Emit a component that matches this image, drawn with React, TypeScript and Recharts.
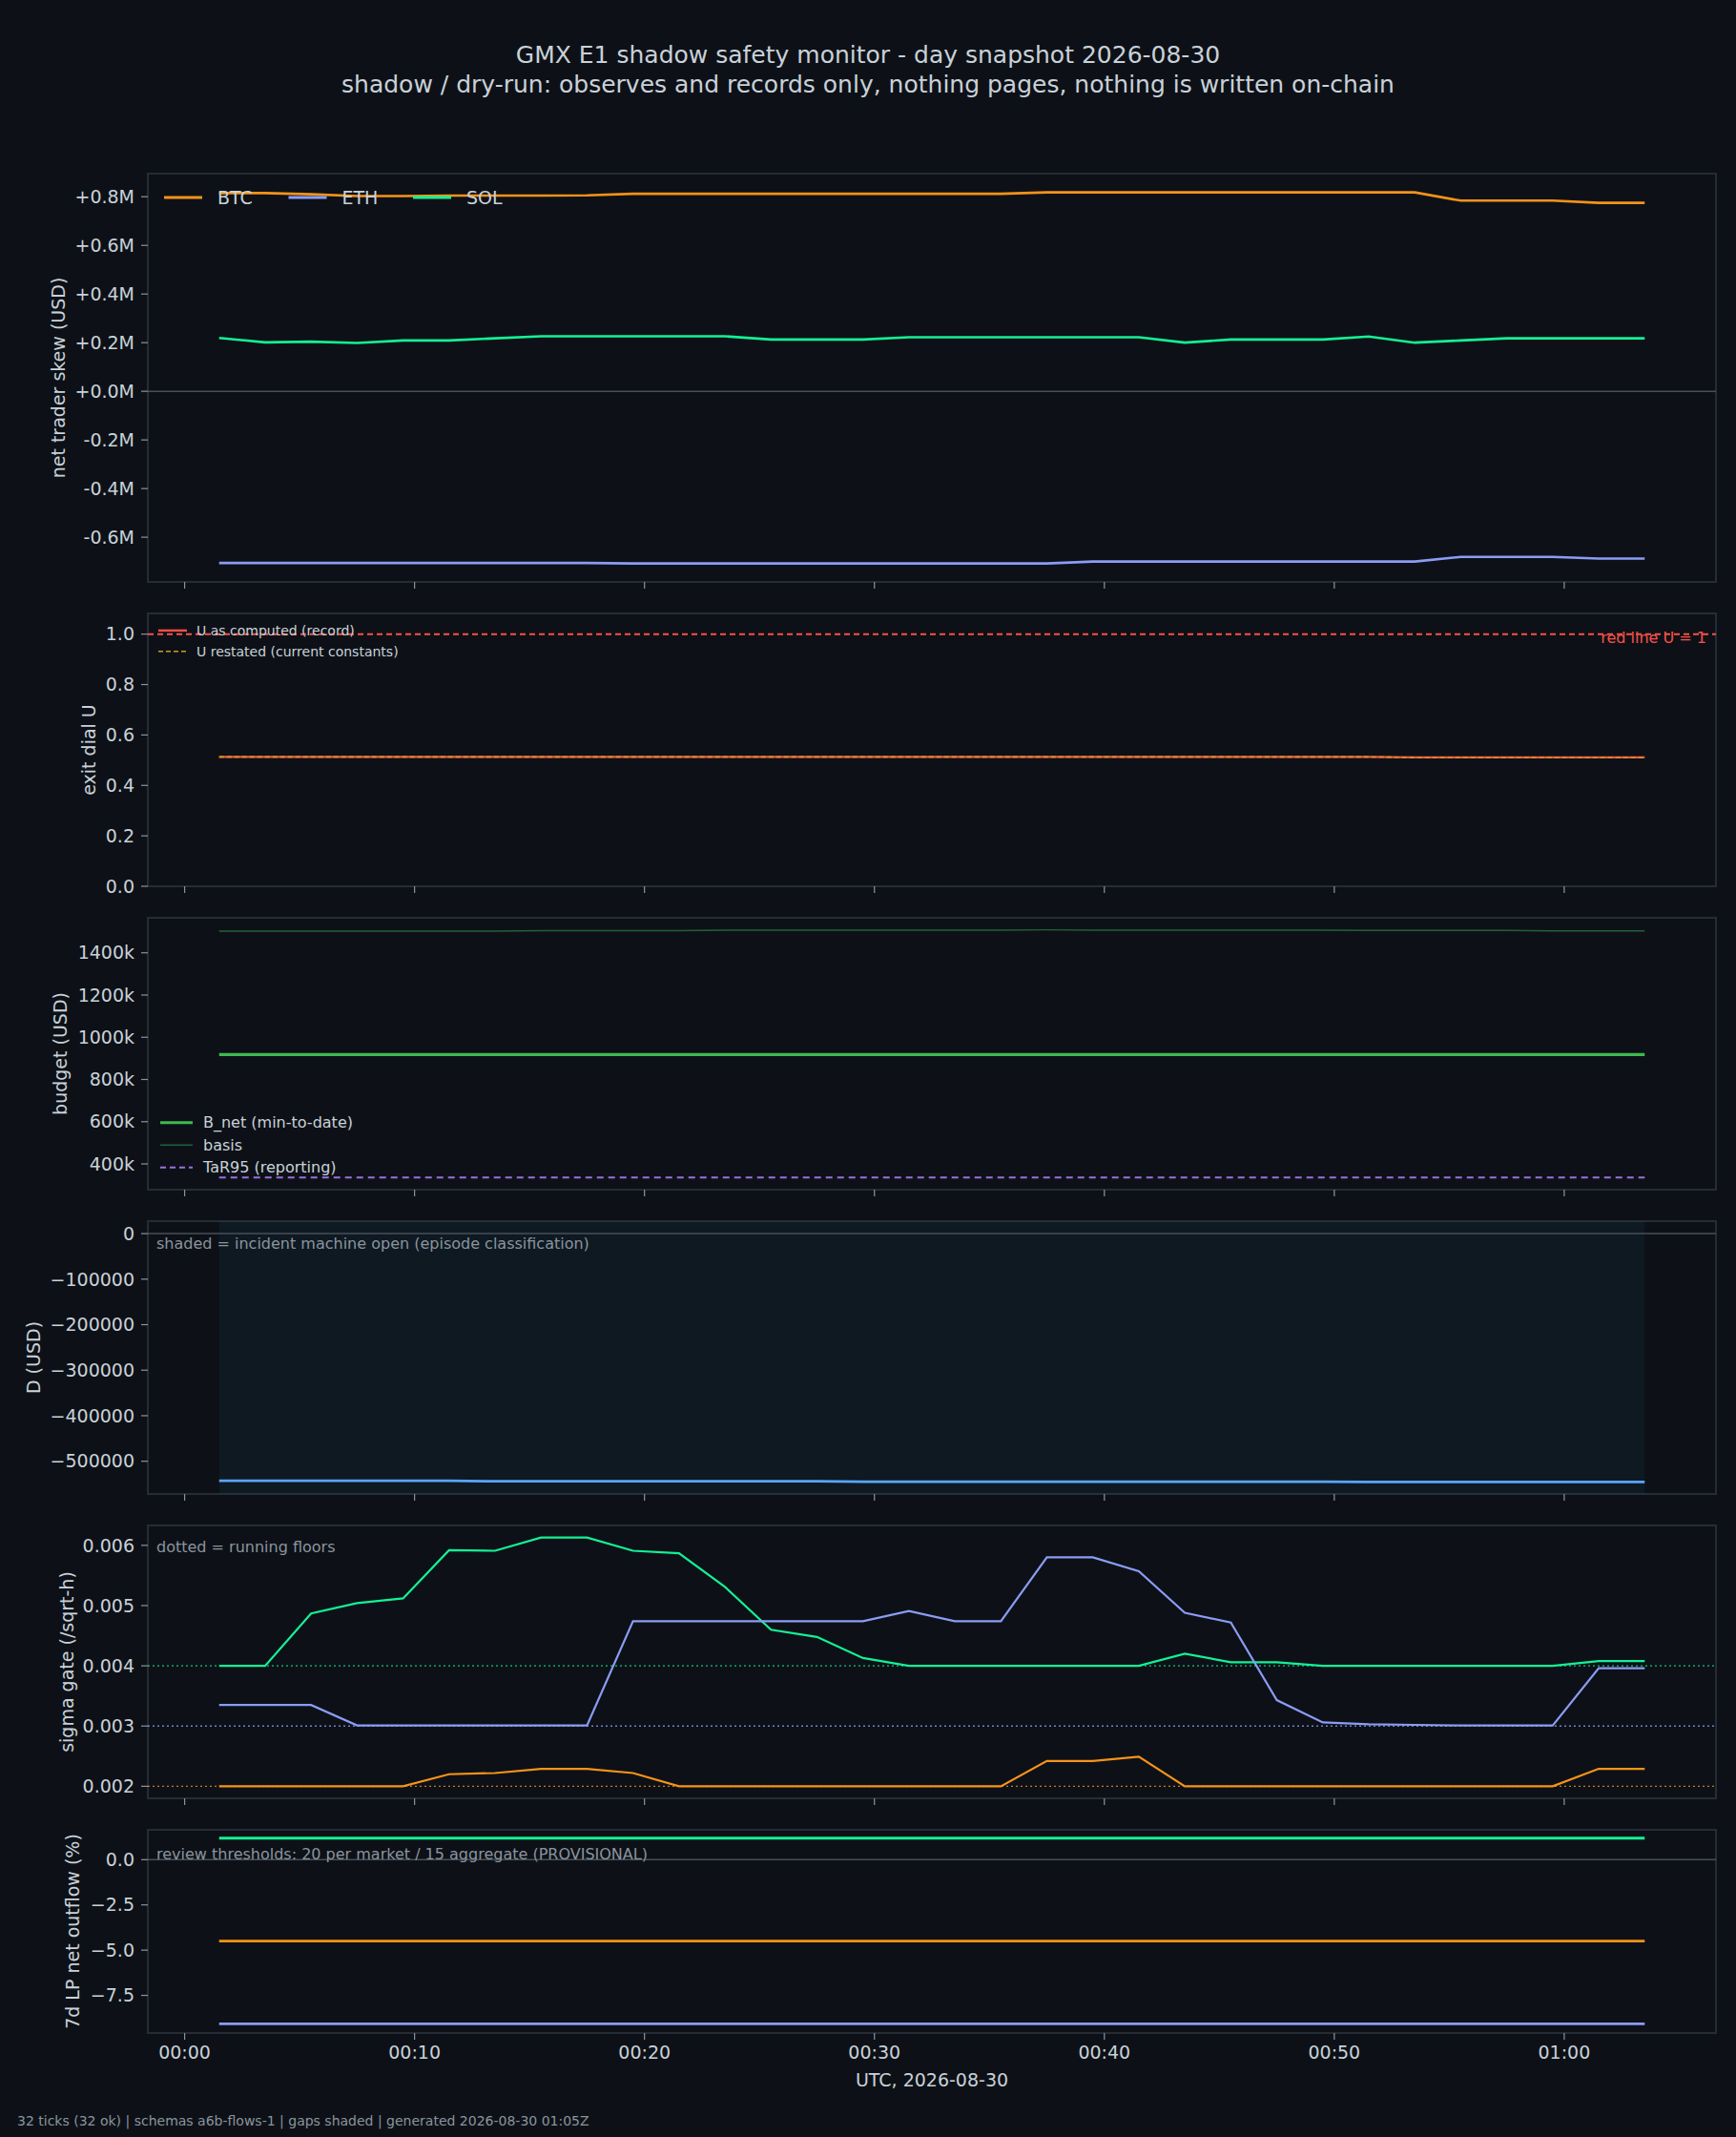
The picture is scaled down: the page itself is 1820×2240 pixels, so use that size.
import React from 'react';
import {
  LineChart,
  Line,
  XAxis,
  YAxis,
  ReferenceLine,
  ReferenceArea,
  Legend,
} from 'recharts';

// page + palette
const W = 1820;
const H = 2240;
const PLOT_L = 155;
const PLOT_R = 1799;
const FONT = '"DejaVu Sans", sans-serif';
const BG = '#0d1117';
const FRAME = '#262c35';
const TEXT = '#c9d1d9';
const MUTED = '#8b949e';
const ZERO = '#484f58';

const C_BTC = '#f7931a';
const C_ETH = '#8b9cf4';
const C_SOL = '#14f195';
const C_D = '#58a6ff';
const C_BNET = '#3fb950';
const C_BASIS = '#22613a';
const C_TAR = '#9d6fe0';
const C_URED = '#f85149';
const C_UREST = '#d29922';
const C_SHADE = '#2a7aa8';

// minutes after 00:00 UTC, one per tick (32 ticks)
const MINUTES = [
  1.5, 3.5, 5.5, 7.5, 9.5, 11.5, 13.5, 15.5, 17.5, 19.5, 21.5, 23.5, 25.5, 27.5, 29.5, 31.5,
  33.5, 35.5, 37.5, 39.5, 41.5, 43.5, 45.5, 47.5, 49.5, 51.5, 53.5, 55.5, 57.5, 59.5, 61.5, 63.5,
];
const X_MIN = -1.6;
const X_MAX = 66.6;
const X_TICKS = [0, 10, 20, 30, 40, 50, 60];

// panel 1: net trader skew (USD)
const SKEW_BTC = [
  815000, 815000, 810000, 803000, 803000, 805000, 805000, 805000, 806000, 812000, 812000, 812000,
  812000, 812000, 812000, 812000, 812000, 812000, 818000, 818000, 818000, 818000, 818000, 818000,
  818000, 818000, 818000, 784000, 784000, 784000, 775000, 775000,
];
const SKEW_ETH = [
  -706000, -706000, -706000, -706000, -706000, -706000, -706000, -706000, -706000, -708000, -708000,
  -708000, -708000, -708000, -708000, -708000, -708000, -708000, -708000, -700000, -700000, -700000,
  -700000, -700000, -700000, -700000, -700000, -681000, -681000, -681000, -688000, -688000,
];
const SKEW_SOL = [
  219600, 201300, 204000, 198700, 209000, 209000, 218000, 226000, 226000, 226000, 226000, 226000,
  213000, 213000, 213000, 222000, 222000, 222000, 222000, 222000, 222000, 200000, 213000, 213000,
  213000, 225000, 200000, 209000, 218000, 218000, 218000, 218000,
];
const SKEW_TICKS = [-600000, -400000, -200000, 0, 200000, 400000, 600000, 800000];

// panel 2: exit dial U
const U_COMPUTED = [
  0.513, 0.513, 0.513, 0.513, 0.513, 0.513, 0.513, 0.513, 0.513, 0.513, 0.513, 0.513, 0.513, 0.513,
  0.513, 0.513, 0.513, 0.513, 0.513, 0.513, 0.513, 0.513, 0.513, 0.513, 0.513, 0.513, 0.511, 0.511,
  0.511, 0.511, 0.511, 0.511,
];
const U_RESTATED = [
  0.513, 0.513, 0.513, 0.513, 0.513, 0.513, 0.513, 0.513, 0.513, 0.513, 0.513, 0.513, 0.513, 0.513,
  0.513, 0.513, 0.513, 0.513, 0.513, 0.513, 0.513, 0.513, 0.513, 0.513, 0.513, 0.513, 0.511, 0.511,
  0.511, 0.511, 0.511, 0.511,
];
const U_RED_LINE = 1;
const U_TICKS = [0, 0.2, 0.4, 0.6, 0.8, 1.0];

// panel 3: budget (USD)
const B_NET = [
  918000, 918000, 918000, 918000, 918000, 918000, 918000, 918000, 918000, 918000, 918000, 918000,
  918000, 918000, 918000, 918000, 918000, 918000, 918000, 918000, 918000, 918000, 918000, 918000,
  918000, 918000, 918000, 918000, 918000, 918000, 918000, 918000,
];
const B_BASIS = [
  1503000, 1503000, 1503000, 1503000, 1503000, 1503000, 1503000, 1505000, 1505000, 1505000, 1505000,
  1507000, 1507000, 1507000, 1507000, 1507000, 1507000, 1507000, 1509000, 1507000, 1507000, 1507000,
  1507000, 1507000, 1507000, 1506000, 1506000, 1506000, 1506000, 1504000, 1504000, 1504000,
];
const TAR95 = [
  336000, 336000, 336000, 336000, 336000, 336000, 336000, 336000, 336000, 336000, 336000, 336000,
  336000, 336000, 336000, 336000, 336000, 336000, 336000, 336000, 336000, 336000, 336000, 336000,
  336000, 336000, 336000, 336000, 336000, 336000, 336000, 336000,
];
const BUDGET_TICKS = [400000, 600000, 800000, 1000000, 1200000, 1400000];

// panel 4: D (USD), shaded while the incident machine is open
const D_USD = [
  -543000, -543000, -543000, -543000, -543000, -543000, -544000, -544000, -544000, -544000, -544000,
  -544000, -544000, -544000, -545000, -545000, -545000, -545000, -545000, -545000, -545000, -545000,
  -545000, -545000, -545000, -545500, -545500, -545500, -545500, -545500, -545500, -545500,
];
const D_TICKS = [-500000, -400000, -300000, -200000, -100000, 0];

// panel 5: sigma gate (/sqrt-h)
const SIGMA_SOL = [
  0.004, 0.004, 0.00487, 0.00504, 0.00512, 0.00592, 0.00591, 0.00613, 0.00613, 0.00591, 0.00587,
  0.00531, 0.0046, 0.00448, 0.00413, 0.004, 0.004, 0.004, 0.004, 0.004, 0.004, 0.0042, 0.00406,
  0.00406, 0.004, 0.004, 0.004, 0.004, 0.004, 0.004, 0.00408, 0.00408,
];
const SIGMA_ETH = [
  0.00335, 0.00335, 0.00335, 0.00301, 0.00301, 0.00301, 0.00301, 0.00301, 0.00301, 0.00474, 0.00474,
  0.00474, 0.00474, 0.00474, 0.00474, 0.00491, 0.00474, 0.00474, 0.0058, 0.0058, 0.00557, 0.00488,
  0.00472, 0.00343, 0.00306, 0.00303, 0.00302, 0.00301, 0.00301, 0.00301, 0.00396, 0.00396,
];
const SIGMA_BTC = [
  0.002, 0.002, 0.002, 0.002, 0.002, 0.0022, 0.00222, 0.00229, 0.00229, 0.00222, 0.002, 0.002,
  0.002, 0.002, 0.002, 0.002, 0.002, 0.002, 0.00242, 0.00242, 0.00249, 0.002, 0.002, 0.002, 0.002,
  0.002, 0.002, 0.002, 0.002, 0.002, 0.00229, 0.00229,
];
const SIGMA_FLOORS = { sol: 0.004, eth: 0.003, btc: 0.002 };
const SIGMA_TICKS = [0.002, 0.003, 0.004, 0.005, 0.006];

// panel 6: 7d LP net outflow (%)
const LP_SOL = [
  1.19, 1.19, 1.19, 1.19, 1.19, 1.19, 1.19, 1.19, 1.19, 1.19, 1.19, 1.19, 1.19, 1.19, 1.19, 1.19,
  1.19, 1.19, 1.19, 1.19, 1.19, 1.19, 1.19, 1.19, 1.19, 1.19, 1.19, 1.19, 1.19, 1.19, 1.19, 1.19,
];
const LP_BTC = [
  -4.5, -4.5, -4.5, -4.5, -4.5, -4.5, -4.5, -4.5, -4.5, -4.5, -4.5, -4.5, -4.5, -4.5, -4.5, -4.5,
  -4.5, -4.5, -4.5, -4.5, -4.5, -4.5, -4.5, -4.5, -4.5, -4.5, -4.5, -4.5, -4.5, -4.5, -4.5, -4.5,
];
const LP_ETH = [
  -9.07, -9.07, -9.07, -9.07, -9.07, -9.07, -9.07, -9.07, -9.07, -9.07, -9.07, -9.07, -9.07, -9.07,
  -9.07, -9.07, -9.07, -9.07, -9.07, -9.07, -9.07, -9.07, -9.07, -9.07, -9.07, -9.07, -9.07, -9.07,
  -9.07, -9.07, -9.07, -9.07,
];
const LP_TICKS = [-7.5, -5, -2.5, 0];

const skewRows = MINUTES.map((t, i) => ({ t, btc: SKEW_BTC[i], eth: SKEW_ETH[i], sol: SKEW_SOL[i] }));
const uRows = MINUTES.map((t, i) => ({ t, comp: U_COMPUTED[i], rest: U_RESTATED[i] }));
const budgetRows = MINUTES.map((t, i) => ({ t, bnet: B_NET[i], basis: B_BASIS[i], tar: TAR95[i] }));
const dRows = MINUTES.map((t, i) => ({ t, d: D_USD[i] }));
const sigmaRows = MINUTES.map((t, i) => ({ t, sol: SIGMA_SOL[i], eth: SIGMA_ETH[i], btc: SIGMA_BTC[i] }));
const lpRows = MINUTES.map((t, i) => ({ t, sol: LP_SOL[i], btc: LP_BTC[i], eth: LP_ETH[i] }));

const MINUS = '\u2212';
const fmtClock = (m: number) =>
  `${String(Math.floor(m / 60)).padStart(2, '0')}:${String(m % 60).padStart(2, '0')}`;
const fmtSkew = (v: number) => `${v >= 0 ? '+' : '-'}${Math.abs(v / 1e6).toFixed(1)}M`;
const fmtU = (v: number) => v.toFixed(1);
const fmtK = (v: number) => `${Math.round(v / 1000)}k`;
const fmtD = (v: number) => (v < 0 ? `${MINUS}${Math.abs(v)}` : `${v}`);
const fmtSigma = (v: number) => v.toFixed(3);
const fmtPct = (v: number) => (v < 0 ? `${MINUS}${Math.abs(v).toFixed(1)}` : v.toFixed(1));

type LegendItem = { label: string; color: string; width: number; dash?: string };

// legend drawn as a small svg inside the chart, no frame (matches the dark theme look)
function legendAt(
  items: LegendItem[],
  left: number,
  top: number,
  opts: { fontSize: number; rowH: number; colW: number; horizontal: boolean; handle: number; textGap: number },
) {
  const w = opts.horizontal ? opts.colW * items.length : 340;
  const h = opts.horizontal ? opts.rowH : opts.rowH * items.length;
  return (
    <Legend
      layout="horizontal"
      verticalAlign="middle"
      align="center"
      wrapperStyle={{ left, top, width: w, height: h }}
      content={() => (
        <svg width={w} height={h} style={{ display: 'block', overflow: 'visible' }}>
          {items.map((it, i) => {
            const x = opts.horizontal ? i * opts.colW : 0;
            const y = opts.horizontal ? opts.rowH / 2 : i * opts.rowH + opts.rowH / 2;
            return (
              <g key={it.label}>
                <line
                  x1={x + 2}
                  x2={x + 2 + opts.handle}
                  y1={y}
                  y2={y}
                  stroke={it.color}
                  strokeWidth={it.width}
                  strokeDasharray={it.dash}
                />
                <text
                  x={x + 2 + opts.handle + opts.textGap}
                  y={y}
                  dominantBaseline="central"
                  fill={TEXT}
                  fontSize={opts.fontSize}
                  fontFamily={FONT}
                >
                  {it.label}
                </text>
              </g>
            );
          })}
        </svg>
      )}
    />
  );
}

type PanelProps = {
  top: number;
  bottom: number;
  last?: boolean;
  domain: [number, number];
  ticks: number[];
  fmt: (v: number) => string;
  label: string;
  labelX: number;
  data: any[];
  children: React.ReactNode;
};

const PAD = 10;
const TICK_FONT = 19;

function Panel({ top, bottom, last, domain, ticks, fmt, label, labelX, data, children }: PanelProps) {
  const axisH = last ? 40 : 10;
  const plotH = bottom - top;
  const height = PAD + plotH + axisH;
  const cy = PAD + plotH / 2;
  return (
    <div style={{ position: 'absolute', left: 0, top: top - PAD, width: W, height }}>
      <LineChart
        width={W}
        height={height}
        data={data}
        margin={{ top: PAD, right: W - PLOT_R, bottom: 0, left: 0 }}
      >
        <XAxis
          type="number"
          dataKey="t"
          domain={[X_MIN, X_MAX]}
          ticks={X_TICKS}
          allowDataOverflow
          interval={0}
          height={axisH}
          axisLine={false}
          tickLine={{ stroke: MUTED, strokeWidth: 1.2 }}
          tickSize={7}
          tickMargin={7}
          tick={{ fill: TEXT, fontSize: TICK_FONT, fontFamily: FONT }}
          tickFormatter={last ? fmtClock : () => ''}
        />
        <YAxis
          type="number"
          domain={domain}
          ticks={ticks}
          allowDataOverflow
          interval={0}
          width={PLOT_L}
          axisLine={false}
          tickLine={{ stroke: MUTED, strokeWidth: 1.2 }}
          tickSize={7}
          tickMargin={7}
          tick={{ fill: TEXT, fontSize: TICK_FONT, fontFamily: FONT }}
          tickFormatter={fmt}
          label={{
            content: () => (
              <text
                x={labelX}
                y={cy}
                transform={`rotate(-90 ${labelX} ${cy})`}
                textAnchor="middle"
                dominantBaseline="central"
                fill={TEXT}
                fontSize={TICK_FONT}
                fontFamily={FONT}
              >
                {label}
              </text>
            ),
          }}
        />
        <ReferenceArea
          x1={X_MIN}
          x2={X_MAX}
          y1={domain[0]}
          y2={domain[1]}
          fill="none"
          stroke={FRAME}
          strokeWidth={2}
          ifOverflow="visible"
        />
        {children}
      </LineChart>
    </div>
  );
}

const note = (
  text: string,
  x: number,
  y: number,
  color = MUTED,
  size = 16,
  anchor: 'start' | 'middle' | 'end' = 'start',
) => (
  <div
    style={{
      position: 'absolute',
      left: x,
      top: y,
      transform:
        anchor === 'end' ? 'translate(-100%, -50%)' : anchor === 'middle' ? 'translate(-50%, -50%)' : 'translateY(-50%)',
      color,
      fontSize: size,
      fontFamily: FONT,
      lineHeight: 1,
      whiteSpace: 'nowrap',
    }}
  >
    {text}
  </div>
);

export default function App() {
  return (
    <div style={{ position: 'absolute', left: 0, top: 0, width: W, height: H, background: BG, fontFamily: FONT }}>
      {/* title */}
      <div
        style={{
          position: 'absolute',
          left: 0,
          width: W,
          top: 42,
          textAlign: 'center',
          color: TEXT,
          fontSize: 25,
          lineHeight: '31px',
        }}
      >
        <div>GMX E1 shadow safety monitor - day snapshot 2026-08-30</div>
        <div>shadow / dry-run: observes and records only, nothing pages, nothing is written on-chain</div>
      </div>

      {/* 1: net trader skew */}
      <Panel
        top={182}
        bottom={610}
        domain={[-784000, 895000]}
        ticks={SKEW_TICKS}
        fmt={fmtSkew}
        label="net trader skew (USD)"
        labelX={61}
        data={skewRows}
      >
        <ReferenceLine y={0} stroke={ZERO} strokeWidth={1.5} />
        <Line type="linear" dataKey="btc" name="BTC" stroke={C_BTC} strokeWidth={2.6} dot={false} isAnimationActive={false} />
        <Line type="linear" dataKey="eth" name="ETH" stroke={C_ETH} strokeWidth={2.6} dot={false} isAnimationActive={false} />
        <Line type="linear" dataKey="sol" name="SOL" stroke={C_SOL} strokeWidth={2.6} dot={false} isAnimationActive={false} />
        {legendAt(
          [
            { label: 'BTC', color: C_BTC, width: 2.8 },
            { label: 'ETH', color: C_ETH, width: 2.8 },
            { label: 'SOL', color: C_SOL, width: 2.8 },
          ],
          170,
          23,
          { fontSize: 19, rowH: 24, colW: 130.5, horizontal: true, handle: 40, textGap: 16 },
        )}
      </Panel>

      {/* 2: exit dial U */}
      <Panel
        top={643}
        bottom={929}
        domain={[0, 1.082]}
        ticks={U_TICKS}
        fmt={fmtU}
        label="exit dial U"
        labelX={93}
        data={uRows}
      >
        <ReferenceLine y={U_RED_LINE} stroke={C_URED} strokeWidth={2} strokeDasharray="6 4" />
        <Line type="linear" dataKey="comp" name="U as computed (record)" stroke={C_URED} strokeWidth={2.2} dot={false} isAnimationActive={false} />
        <Line type="linear" dataKey="rest" name="U restated (current constants)" stroke={C_UREST} strokeWidth={1.6} strokeDasharray="5 3" dot={false} isAnimationActive={false} />
        {legendAt(
          [
            { label: 'U as computed (record)', color: C_URED, width: 2.4 },
            { label: 'U restated (current constants)', color: C_UREST, width: 1.6, dash: '5 3' },
          ],
          164,
          17,
          { fontSize: 14, rowH: 21.8, colW: 0, horizontal: false, handle: 30, textGap: 10 },
        )}
      </Panel>
      {note('red line U = 1', 1789, 669, C_URED, 16, 'end')}

      {/* 3: budget */}
      <Panel
        top={962}
        bottom={1247}
        domain={[278000, 1566000]}
        ticks={BUDGET_TICKS}
        fmt={fmtK}
        label="budget (USD)"
        labelX={63}
        data={budgetRows}
      >
        <Line type="linear" dataKey="basis" name="basis" stroke={C_BASIS} strokeWidth={1.4} dot={false} isAnimationActive={false} />
        <Line type="linear" dataKey="bnet" name="B_net (min-to-date)" stroke={C_BNET} strokeWidth={3.2} dot={false} isAnimationActive={false} />
        <Line type="linear" dataKey="tar" name="TaR95 (reporting)" stroke={C_TAR} strokeWidth={2} strokeDasharray="7 5" dot={false} isAnimationActive={false} />
        {legendAt(
          [
            { label: 'B_net (min-to-date)', color: C_BNET, width: 3.2 },
            { label: 'basis', color: C_BASIS, width: 1.6 },
            { label: 'TaR95 (reporting)', color: C_TAR, width: 2, dash: '6 4' },
          ],
          166,
          213,
          { fontSize: 16, rowH: 23.5, colW: 0, horizontal: false, handle: 34, textGap: 11 },
        )}
      </Panel>

      {/* 4: D */}
      <Panel
        top={1280}
        bottom={1566}
        domain={[-572000, 27400]}
        ticks={D_TICKS}
        fmt={fmtD}
        label="D (USD)"
        labelX={35}
        data={dRows}
      >
        <ReferenceArea
          x1={MINUTES[0]}
          x2={MINUTES[MINUTES.length - 1]}
          fill={C_SHADE}
          fillOpacity={0.08}
          stroke="none"
          ifOverflow="visible"
        />
        <ReferenceLine y={0} stroke={ZERO} strokeWidth={1.5} />
        <Line type="linear" dataKey="d" name="D" stroke={C_D} strokeWidth={2.8} dot={false} isAnimationActive={false} />
      </Panel>
      {note('shaded = incident machine open (episode classification)', 164, 1304)}

      {/* 5: sigma gate */}
      <Panel
        top={1599}
        bottom={1885}
        domain={[0.0018, 0.00633]}
        ticks={SIGMA_TICKS}
        fmt={fmtSigma}
        label="sigma gate (/sqrt-h)"
        labelX={70}
        data={sigmaRows}
      >
        <ReferenceLine y={SIGMA_FLOORS.sol} stroke={C_SOL} strokeOpacity={0.8} strokeWidth={1.3} strokeDasharray="2 3" />
        <ReferenceLine y={SIGMA_FLOORS.eth} stroke={C_ETH} strokeOpacity={0.8} strokeWidth={1.3} strokeDasharray="2 3" />
        <ReferenceLine y={SIGMA_FLOORS.btc} stroke={C_BTC} strokeOpacity={0.8} strokeWidth={1.3} strokeDasharray="2 3" />
        <Line type="linear" dataKey="sol" name="SOL" stroke={C_SOL} strokeWidth={2.2} dot={false} isAnimationActive={false} />
        <Line type="linear" dataKey="eth" name="ETH" stroke={C_ETH} strokeWidth={2.2} dot={false} isAnimationActive={false} />
        <Line type="linear" dataKey="btc" name="BTC" stroke={C_BTC} strokeWidth={2.2} dot={false} isAnimationActive={false} />
      </Panel>
      {note('dotted = running floors', 164, 1622)}

      {/* 6: LP outflow */}
      <Panel
        top={1918}
        bottom={2131}
        last
        domain={[-9.58, 1.65]}
        ticks={LP_TICKS}
        fmt={fmtPct}
        label="7d LP net outflow (%)"
        labelX={76}
        data={lpRows}
      >
        <ReferenceLine y={0} stroke={ZERO} strokeWidth={1.5} />
        <Line type="linear" dataKey="sol" name="SOL" stroke={C_SOL} strokeWidth={2.8} dot={false} isAnimationActive={false} />
        <Line type="linear" dataKey="btc" name="BTC" stroke={C_BTC} strokeWidth={2.8} dot={false} isAnimationActive={false} />
        <Line type="linear" dataKey="eth" name="ETH" stroke={C_ETH} strokeWidth={2.8} dot={false} isAnimationActive={false} />
      </Panel>
      {note('review thresholds: 20 per market / 15 aggregate (PROVISIONAL)', 164, 1944)}

      {note('UTC, 2026-08-30', 977, 2180, TEXT, 19, 'middle')}
      {note('32 ticks (32 ok) | schemas a6b-flows-1 | gaps shaded | generated 2026-08-30 01:05Z', 18, 2223, MUTED, 14)}
    </div>
  );
}
